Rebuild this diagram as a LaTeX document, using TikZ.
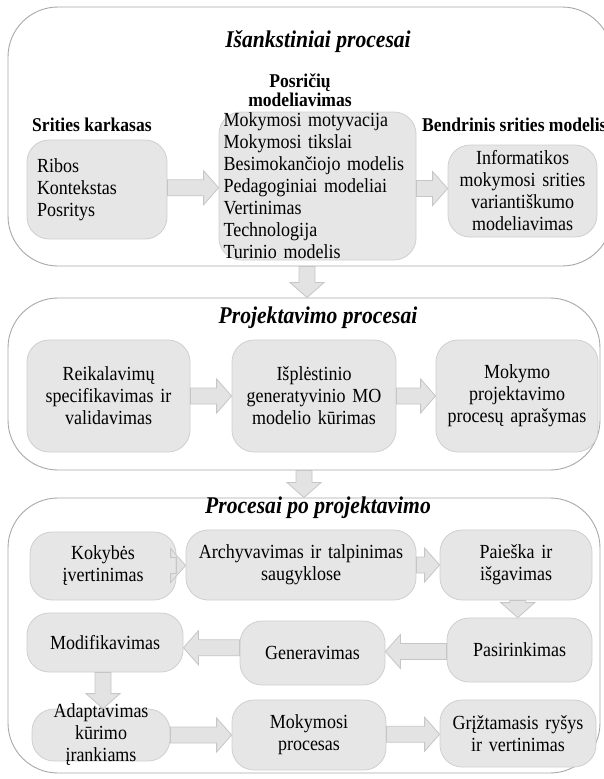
\documentclass[tikz,border=0pt]{standalone}
\usepackage{fontspec}
\setmainfont{Liberation Serif}[FakeStretch=0.9]
\usetikzlibrary{calc}

\definecolor{boxfill}{HTML}{E6E6E6}
\definecolor{boxline}{HTML}{CFCFCF}
\definecolor{arrfill}{HTML}{E3E3E3}
\definecolor{arrline}{HTML}{C6C6C6}
\definecolor{panelline}{HTML}{A8A8A8}

\newcommand{\bodyfont}{\fontsize{20}{22}\selectfont}

\tikzset{
  panel/.style={draw=panelline, line width=0.9pt, rounded corners=50pt, inner sep=0pt},
  box/.style={draw=boxline, fill=boxfill, line width=0.8pt, rounded corners=22pt,
    inner sep=0pt, align=center, font=\bodyfont},
  btext/.style={inner sep=0pt, align=center, font=\bodyfont},
  title/.style={font=\fontsize{24}{28}\selectfont\bfseries\itshape, inner sep=0pt},
  head/.style={font=\fontsize{19.5}{19}\selectfont\bfseries, inner sep=0pt, align=center},
  barrow/.style={draw=arrline, fill=arrfill, line width=0.8pt, line join=miter},
}

% block arrows between two anchors: shaft half-width 8pt, head half-width 17pt, head length 15pt
\newcommand{\rarr}[2]{\path[barrow] let \p1=(#1), \p2=(#2), \p3=($(#1)!0.5!(#2)$) in
  (\x1,\y3+8pt) -- (\x2-15pt,\y3+8pt) -- (\x2-15pt,\y3+17pt) -- (\x2,\y3)
  -- (\x2-15pt,\y3-17pt) -- (\x2-15pt,\y3-8pt) -- (\x1,\y3-8pt) -- cycle;}
\newcommand{\larr}[2]{\path[barrow] let \p1=(#1), \p2=(#2), \p3=($(#1)!0.5!(#2)$) in
  (\x1,\y3+8pt) -- (\x2+15pt,\y3+8pt) -- (\x2+15pt,\y3+17pt) -- (\x2,\y3)
  -- (\x2+15pt,\y3-17pt) -- (\x2+15pt,\y3-8pt) -- (\x1,\y3-8pt) -- cycle;}
\newcommand{\darr}[2]{\path[barrow] let \p1=(#1), \p2=(#2), \p3=($(#1)!0.5!(#2)$) in
  (\x3-8pt,\y1) -- (\x3-8pt,\y2+15pt) -- (\x3-17pt,\y2+15pt) -- (\x3,\y2)
  -- (\x3+17pt,\y2+15pt) -- (\x3+8pt,\y2+15pt) -- (\x3+8pt,\y1) -- cycle;}

\begin{document}
\begin{tikzpicture}[x=1pt, y=-1pt]
\useasboundingbox (0,0) rectangle (604,779);
\clip (0,0) rectangle (604,779);

% ---------- panels ----------
\node[panel, minimum width=604, minimum height=259] (p1) at (310,136.5) {};
\node[panel, minimum width=592, minimum height=172] (p2) at (304,384) {};
\node[panel, minimum width=592, minimum height=275] (p3) at (304,635.5) {};

% ---------- preliminary processes ----------
\node[title] (t1) at (318,42) {Išankstiniai procesai};
\node[head] (h2) at (300,90) {Posričių\\modeliavimas};
\node[head, anchor=west] (h1) at (32,125) {Srities karkasas};
\node[head, anchor=west] (h3) at (422,125) {Bendrinis srities modelis};

\node[box, minimum width=140, minimum height=99, text width=120, align=left] (a) at (97,189.5)
  {Ribos\\Kontekstas\\Posritys};
\node[box, minimum width=197, minimum height=148, text width=188, align=left] (b) at (317.5,186)
  {Mokymosi motyvacija\\Mokymosi tikslai\\Besimokančiojo modelis\\Pedagoginiai modeliai\\Vertinimas\\Technologija\\Turinio modelis};
\node[box, minimum width=149, minimum height=92, text width=147] (c) at (522.5,191)
  {Informatikos\\mokymosi srities\\variantiškumo\\modeliavimas};

% ---------- design processes ----------
\node[title] (t2) at (318,318) {Projektavimo procesai};
\node[box, minimum width=163, minimum height=112, text width=160] (d) at (108.5,396)
  {Reikalavimų\\specifikavimas ir\\validavimas};
\node[box, minimum width=164, minimum height=112, text width=160] (e) at (314,396)
  {Išplėstinio\\generatyvinio MO\\modelio kūrimas};
\node[box, minimum width=162, minimum height=112, text width=160] (f) at (517,396)
  {Mokymo\\projektavimo\\procesų aprašymas};

% ---------- post-design processes ----------
\node[title] (t3) at (318,508) {Procesai po projektavimo};
\node[box, minimum width=146, minimum height=68, text width=144] (g) at (103,566)
  {Kokybės\\įvertinimas};
\node[box, minimum width=230, minimum height=70, text width=226] (h) at (301,565)
  {Archyvavimas ir talpinimas\\saugyklose};
\node[box, minimum width=152, minimum height=70, text width=150] (i) at (516,565)
  {Paieška ir\\išgavimas};
\node[box, minimum width=145, minimum height=64, text width=143] (j) at (519.5,650)
  {Pasirinkimas};
\node[box, minimum width=145, minimum height=64, text width=143] (k) at (312.5,653)
  {Generavimas};
\node[box, minimum width=156, minimum height=59, text width=154] (l) at (105,642.5)
  {Modifikavimas};
\node[box, minimum width=138, minimum height=52] (m) at (101,735) {};
\node[btext] (mt) at (m.center) {Adaptavimas\\kūrimo\\įrankiams};
\node[box, minimum width=154, minimum height=70, text width=152] (n) at (309,735)
  {Mokymosi\\procesas};
\node[box, minimum width=156, minimum height=67, text width=154] (o) at (518,733.5)
  {Grįžtamasis ryšys\\ir vertinimas};

% ---------- flow arrows ----------
\rarr{a.east}{b.west}
\rarr{b.east}{c.west}
\darr{p1.south}{p2.north}
\rarr{d.east}{e.west}
\rarr{e.east}{f.west}
\darr{p2.south}{p3.north}
\rarr{g.east}{h.west}
\rarr{h.east}{i.west}
\darr{i.south}{j.north}
\larr{j.west}{k.east}
\larr{k.west}{l.east}
\darr{l.south}{m.north}
\rarr{m.east}{n.west}
\rarr{n.east}{o.west}
\end{tikzpicture}
\end{document}
